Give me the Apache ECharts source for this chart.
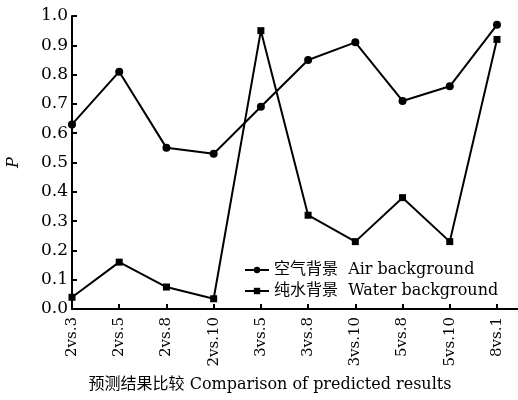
<!DOCTYPE html>
<html>
<head>
<meta charset="utf-8">
<script src="https://cdn.jsdelivr.net/npm/echarts@6/dist/echarts.min.js"></script>
<style>
html,body{margin:0;padding:0;background:#fff;}
#chart{width:518px;height:400px;}
</style>
</head>
<body>
<div id="chart"></div>
<script>
// Pairwise comparisons of predicted results
const categories = ['2vs.3','2vs.5','2vs.8','2vs.10','3vs.5','3vs.8','3vs.10','5vs.8','5vs.10','8vs.1'];
const airValues = [0.63, 0.81, 0.55, 0.53, 0.69, 0.85, 0.91, 0.71, 0.76, 0.97];
const waterValues = [0.04, 0.16, 0.075, 0.035, 0.95, 0.32, 0.23, 0.38, 0.23, 0.92];
const yTicks = [0, 0.1, 0.2, 0.3, 0.4, 0.5, 0.6, 0.7, 0.8, 0.9, 1.0];

const serif = '"DejaVu Serif", "Noto Sans CJK SC", serif';
const toPoints = vals => vals.map((v, i) => [i, v]);

const chart = echarts.init(document.getElementById('chart'), null, {renderer: 'canvas'});
chart.setOption({
  animation: false,
  backgroundColor: '#fff',
  textStyle: {fontFamily: serif, color: '#000'},
  grid: {left: 72, right: 0, top: 16, bottom: 91, containLabel: false, outerBoundsMode: 'none'},
  legend: {
    orient: 'vertical',
    left: 239,
    top: 257,
    itemWidth: 24,
    itemHeight: 8,
    itemGap: 5,
    textStyle: {fontFamily: serif, fontSize: 16, color: '#000'},
    data: ['空气背景  Air background', '纯水背景  Water background']
  },
  xAxis: {
    type: 'value',
    min: 0,
    max: 9.445,
    interval: 1,
    name: '预测结果比较 Comparison of predicted results',
    nameLocation: 'middle',
    nameGap: 68,
    nameTextStyle: {fontFamily: serif, fontSize: 16, color: '#000', padding: [0, 50, 0, 0]},
    axisLine: {lineStyle: {color: '#000', width: 2}},
    axisTick: {inside: true, length: 5, lineStyle: {color: '#000', width: 2}},
    splitLine: {show: false},
    axisLabel: {
      rotate: 90,
      margin: 8,
      fontFamily: serif,
      fontSize: 15,
      color: '#000',
      showMaxLabel: false,
      formatter: v => (Number.isInteger(v) && categories[v]) ? categories[v] : ''
    }
  },
  yAxis: {
    type: 'value',
    min: 0,
    max: 1,
    interval: 0.1,
    name: 'P',
    nameLocation: 'middle',
    nameGap: 50,
    nameRotate: 90,
    nameTextStyle: {fontFamily: serif, fontSize: 16, fontStyle: 'italic', color: '#000'},
    axisLine: {show: true, lineStyle: {color: '#000', width: 2}},
    axisTick: {show: true, inside: true, length: 5, lineStyle: {color: '#000', width: 2}},
    splitLine: {show: false},
    axisLabel: {
      margin: 4,
      fontFamily: serif,
      fontSize: 17,
      color: '#000',
      formatter: v => {
        const t = yTicks.find(k => Math.abs(k - v) < 1e-6);
        return t === undefined ? '' : t.toFixed(1);
      }
    }
  },
  series: [
    {
      name: '空气背景  Air background',
      type: 'line',
      data: toPoints(airValues),
      symbol: 'circle',
      symbolSize: 8,
      lineStyle: {color: '#000', width: 2},
      itemStyle: {color: '#000'}
    },
    {
      name: '纯水背景  Water background',
      type: 'line',
      data: toPoints(waterValues),
      symbol: 'rect',
      symbolSize: 7,
      lineStyle: {color: '#000', width: 2},
      itemStyle: {color: '#000'}
    }
  ]
});
</script>
</body>
</html>
